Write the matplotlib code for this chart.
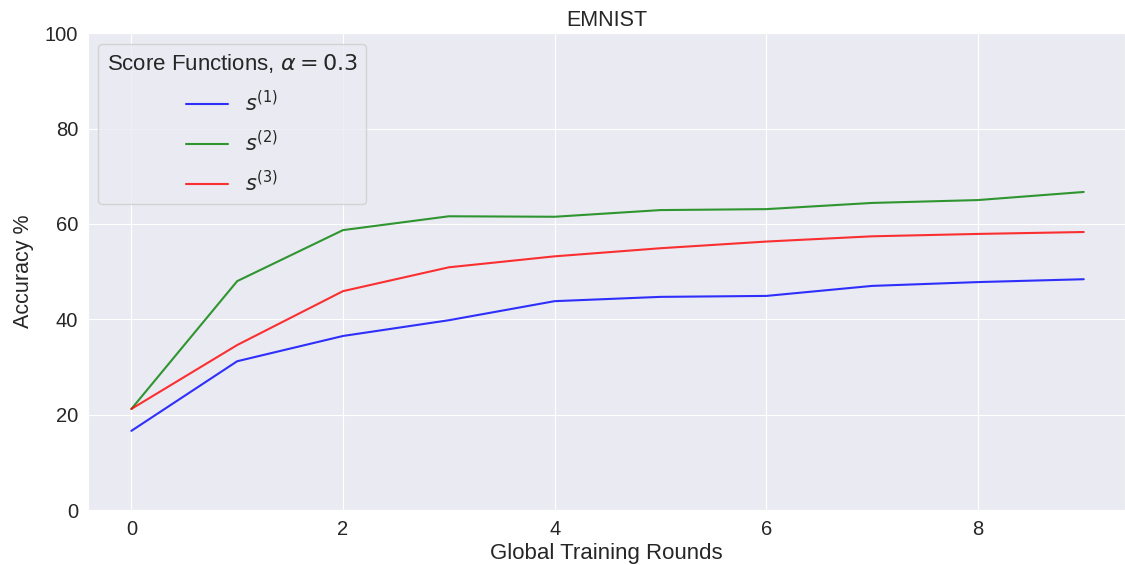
import numpy as np
import matplotlib
matplotlib.use('Agg')
import matplotlib.pyplot as plt
import seaborn as sns

sns.set_style('darkgrid')
plt.rcParams['font.family'] = ['Liberation Sans', 'DejaVu Sans']

rounds = list(range(10))
acc_s1 = [16.6, 31.2, 36.5, 39.8, 43.8, 44.7, 44.9, 47.0, 47.8, 48.4]
acc_s2 = [21.2, 48.0, 58.7, 61.6, 61.5, 62.9, 63.1, 64.4, 65.0, 66.7]
acc_s3 = [21.2, 34.6, 45.9, 50.9, 53.2, 54.9, 56.3, 57.4, 57.9, 58.3]
labels = [r'$s^{(1)}$', r'$s^{(2)}$', r'$s^{(3)}$']
colors = ['blue', 'green', 'red']

fig = plt.figure(figsize=(11.25, 5.65), dpi=100)
ax = fig.add_axes([0.0782, 0.0973, 0.9218, 0.844])

for acc, lab, c in zip([acc_s1, acc_s2, acc_s3], labels, colors):
    ax.plot(rounds, acc, color=c, label=lab, alpha=0.8, linewidth=1.5)

ax.set_ylim(0, 100)
ax.set_xlim(-0.41, 9.39)
ax.set_xticks([0, 2, 4, 6, 8])
ax.tick_params(labelsize=14.5)
ax.set_title('EMNIST', fontsize=15.5, pad=5)
ax.set_xlabel('Global Training Rounds', fontsize=16, labelpad=3)
ax.set_ylabel('Accuracy %', fontsize=15.5, labelpad=8)
leg = ax.legend(title=r'Score Functions, $\alpha=0.3$', loc='upper left',
                fontsize=15, title_fontsize=16, labelspacing=0.72)

fig.savefig('out.png', dpi=100)
